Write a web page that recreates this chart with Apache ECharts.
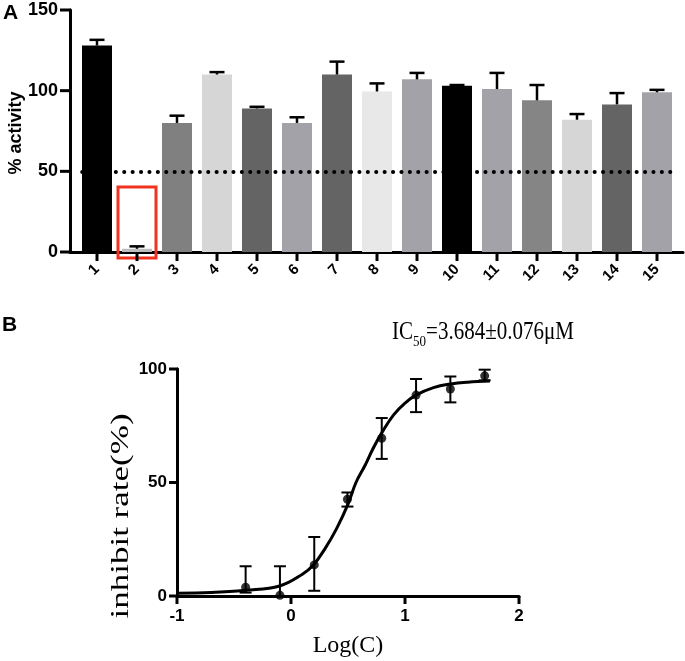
<!DOCTYPE html>
<html>
<head>
<meta charset="utf-8">
<script src="https://cdn.jsdelivr.net/npm/echarts@6/dist/echarts.min.js"></script>
<style>
html,body{margin:0;padding:0;background:#fff;}
#chart{width:685px;height:661px;}
</style>
</head>
<body>
<div id="chart"></div>
<script>
// ---------- Panel A data ----------
const categories = ['1','2','3','4','5','6','7','8','9','10','11','12','13','14','15'];
const activity = [128, 2, 80, 110, 89, 80, 110, 99.5, 107, 103, 101, 94, 82, 91.5, 99];
const activityErr = [3.5, 1.5, 4.5, 1.5, 1, 3.5, 8, 5, 4, 0.5, 10, 9.5, 3.5, 7, 1.5];
const barColors = ['#000000','#bdbdbd','#808080','#d6d6d6','#646464','#a2a2a8','#646464','#e8e8e8',
                   '#a2a2a8','#000000','#a2a2a8','#858585','#d6d6d6','#646464','#a2a2a8'];
const yTicksA = [0, 50, 100, 150];
const highlightBox = [[1.525, 40.3], [2.475, -3.7]]; // data-space corners of the red box

// ---------- Panel B data ----------
const logC = [-0.398, -0.097, 0.204, 0.495, 0.796, 1.097, 1.398, 1.699];
const inhibit = [3.9, 0.3, 13.7, 42.6, 69.5, 88.5, 91.2, 97.0];
const errLow = [1.5, 0, 2.3, 39.4, 60.4, 81, 85.3, 95];
const errHigh = [13.1, 13.1, 26, 45.6, 78.4, 95.6, 96.7, 99.7];
const curveX = [-1, -0.7, -0.4, -0.1, 0.1, 0.2, 0.3, 0.4, 0.5, 0.57, 0.65, 0.72, 0.8, 0.9, 1.0, 1.1, 1.25, 1.4, 1.55, 1.745];
const curveY = [1.2, 1.5, 2.5, 4.4, 9.6, 13.9, 21, 29.7, 40.5, 50, 57.6, 65, 72.2, 79.8, 85, 88.6, 91.8, 93.4, 94.2, 94.7];
const xTicksB = [-1, 0, 1, 2];
const yTicksB = [0, 50, 100];

const SANS = 'Liberation Sans';
const SERIF = 'Liberation Serif';

const tickPosA = categories.map((c, i) => i + 1);

const chart = echarts.init(document.getElementById('chart'), null, {renderer: 'canvas'});

function errBarA(params, api) {
  const x = api.value(0);
  const p0 = api.coord([x, api.value(1)]);
  const p1 = api.coord([x, api.value(2)]);
  const style = {stroke: '#000', lineWidth: 2.5};
  return {
    type: 'group',
    children: [
      {type: 'line', shape: {x1: p0[0], y1: p0[1], x2: p1[0], y2: p1[1]}, style},
      {type: 'line', shape: {x1: p1[0] - 7.5, y1: p1[1], x2: p1[0] + 7.5, y2: p1[1]}, style}
    ]
  };
}
function errBarB(params, api) {
  const x = api.value(0);
  const lo = api.coord([x, api.value(1)]);
  const hi = api.coord([x, api.value(2)]);
  const style = {stroke: '#000', lineWidth: 2};
  return {
    type: 'group',
    children: [
      {type: 'line', shape: {x1: lo[0], y1: lo[1], x2: hi[0], y2: hi[1]}, style},
      {type: 'line', shape: {x1: hi[0] - 6, y1: hi[1], x2: hi[0] + 6, y2: hi[1]}, style},
      {type: 'line', shape: {x1: lo[0] - 6, y1: lo[1], x2: lo[0] + 6, y2: lo[1]}, style}
    ]
  };
}

const axisLineStyle = {color: '#000', width: 3};

const baseGraphic = [
  {id: 'lblA', type: 'text', left: 3, top: 3, style: {text: 'A', font: 'bold 21px "Liberation Sans"', fill: '#000'}},
  {id: 'lblB', type: 'text', left: 2, top: 315, style: {text: 'B', font: 'bold 21px "Liberation Sans"', fill: '#000'}},
  {
    id: 'yNameA', type: 'text', x: 16, y: 133, rotation: Math.PI / 2,
    style: {text: '% activity', x: 0, y: 0, align: 'center', verticalAlign: 'middle',
            font: 'bold 18px "Liberation Sans"', fill: '#000'}
  },
  {
    id: 'ic50', type: 'text', x: 483, y: 331, scaleY: 1.15,
    style: {
      text: '{n|IC}{s|50}{n|=3.684±0.076μM}', x: 0, y: 0, align: 'center', verticalAlign: 'middle',
      rich: {
        n: {fontSize: 21, fontFamily: SERIF, fill: '#000', lineHeight: 24, verticalAlign: 'bottom'},
        s: {fontSize: 13, fontFamily: SERIF, fill: '#000', lineHeight: 24, verticalAlign: 'bottom', padding: [0, 0, -4, 0]}
      }
    }
  },
  {
    id: 'yNameB', type: 'text', x: 121, y: 516, rotation: Math.PI / 2, scaleX: 1.4,
    style: {text: 'inhibit rate(%)', x: 0, y: 0, align: 'center', verticalAlign: 'middle',
            font: '25px "Liberation Serif"', fill: '#000'}
  }
];

const option = {
  animation: false,
  backgroundColor: '#fff',
  grid: [
    {left: 70, right: 2, top: 10, bottom: 409, containLabel: false, outerBoundsMode: 'none'},
    {left: 177, right: 166, top: 369, bottom: 65, containLabel: false, outerBoundsMode: 'none'}
  ],
  xAxis: [
    {
      type: 'value', gridIndex: 0, min: 0.325, max: 15.65,
      splitLine: {show: false},
      axisLine: {show: true, onZero: false, lineStyle: axisLineStyle},
      axisTick: {show: false},
      axisLabel: {
        show: true,
        customValues: tickPosA,
        formatter: v => categories[Math.round(v) - 1],
        rotate: 45, margin: 15, color: '#000', fontWeight: 'bold', fontSize: 15, fontFamily: SANS
      }
    },
    {
      type: 'value', gridIndex: 1, min: -1, max: 2, interval: 1,
      splitLine: {show: false},
      axisLine: {show: true, onZero: false, lineStyle: axisLineStyle},
      axisTick: {show: false},
      axisLabel: {
        formatter: v => String(v),
        margin: 12, color: '#000', fontWeight: 'bold', fontSize: 17, fontFamily: SANS
      },
      name: 'Log(C)', nameLocation: 'middle', nameGap: 38,
      nameTextStyle: {color: '#000', fontSize: 24, fontFamily: SERIF}
    }
  ],
  yAxis: [
    {
      type: 'value', gridIndex: 0, min: 0, max: 150, interval: 50,
      splitLine: {show: false},
      axisLine: {show: true, onZero: false, lineStyle: axisLineStyle},
      axisTick: {show: false},
      axisLabel: {
        formatter: v => String(v),
        margin: 12, color: '#000', fontWeight: 'bold', fontSize: 18, fontFamily: SANS
      }
    },
    {
      type: 'value', gridIndex: 1, min: 0, max: 100, interval: 50,
      splitLine: {show: false},
      axisLine: {show: true, onZero: false, lineStyle: axisLineStyle},
      axisTick: {show: false},
      axisLabel: {
        formatter: v => String(v),
        margin: 10, color: '#000', fontWeight: 'bold', fontSize: 17, fontFamily: SANS
      }
    }
  ],
  graphic: baseGraphic,
  series: [
    {
      type: 'bar', xAxisIndex: 0, yAxisIndex: 0, barWidth: 30,
      data: activity.map((v, i) => ({value: [i + 1, v], itemStyle: {color: barColors[i]}})),
      markLine: {
        silent: true, symbol: 'none', label: {show: false},
        lineStyle: {color: '#000', width: 4, type: [0.1, 8.3], cap: 'round'},
        data: [[{coord: [0.63, 50]}, {coord: [15.35, 50]}]]
      }
    },
    {
      type: 'custom', xAxisIndex: 0, yAxisIndex: 0, clip: false, z: 3,
      renderItem: errBarA,
      data: activity.map((v, i) => [i + 1, v, v + activityErr[i]])
    },
    {
      type: 'line', xAxisIndex: 1, yAxisIndex: 1, smooth: 0.4, showSymbol: false, symbol: 'none',
      lineStyle: {color: '#000', width: 3},
      data: curveX.map((x, i) => [x, curveY[i]]),
      markLine: {
        silent: true, symbol: 'none', label: {show: false},
        lineStyle: {color: '#000', width: 3, type: [0.1, 5.6], cap: 'round'},
        data: [[{coord: [-0.93, 50]}, {coord: [2.08, 50]}]]
      }
    },
    {
      type: 'custom', xAxisIndex: 1, yAxisIndex: 1, clip: false, z: 3,
      renderItem: errBarB,
      data: logC.map((x, i) => [x, errLow[i], errHigh[i]])
    },
    {
      type: 'scatter', xAxisIndex: 1, yAxisIndex: 1, symbol: 'circle', symbolSize: 9, z: 4,
      itemStyle: {color: '#000'},
      data: logC.map((x, i) => [x, inhibit[i]])
    }
  ]
};
chart.setOption(option);

// Axis ticks and the highlight box, placed through the grids' own scales
const extra = [];
function tickRect(grid, x, y, horizontal, len, k) {
  const p = chart.convertToPixel({gridIndex: grid}, [x, y]);
  const shape = horizontal
    ? {x: p[0] - len, y: p[1] - 1.5, width: len + 1, height: 3}
    : {x: p[0] - 1.5, y: p[1], width: 3, height: len};
  extra.push({id: 'tk' + grid + (horizontal ? 'y' : 'x') + k, type: 'rect', z: 50, silent: true,
    shape, style: {fill: '#000'}});
}
tickPosA.forEach((x, k) => tickRect(0, x, 0, false, 9, k));
yTicksA.forEach((y, k) => tickRect(0, 0.325, y, true, 10, k));
xTicksB.forEach((x, k) => tickRect(1, x, 0, false, 8, k));
yTicksB.forEach((y, k) => tickRect(1, -1, y, true, 8, k));
const b0 = chart.convertToPixel({gridIndex: 0}, highlightBox[0]);
const b1 = chart.convertToPixel({gridIndex: 0}, highlightBox[1]);
extra.push({id: 'redBox', type: 'rect', z: 40, silent: true,
  shape: {x: b0[0], y: b0[1], width: b1[0] - b0[0], height: b1[1] - b0[1]},
  style: {fill: 'none', stroke: '#f0321e', lineWidth: 3}});
chart.setOption({graphic: baseGraphic.concat(extra)});
</script>
</body>
</html>
